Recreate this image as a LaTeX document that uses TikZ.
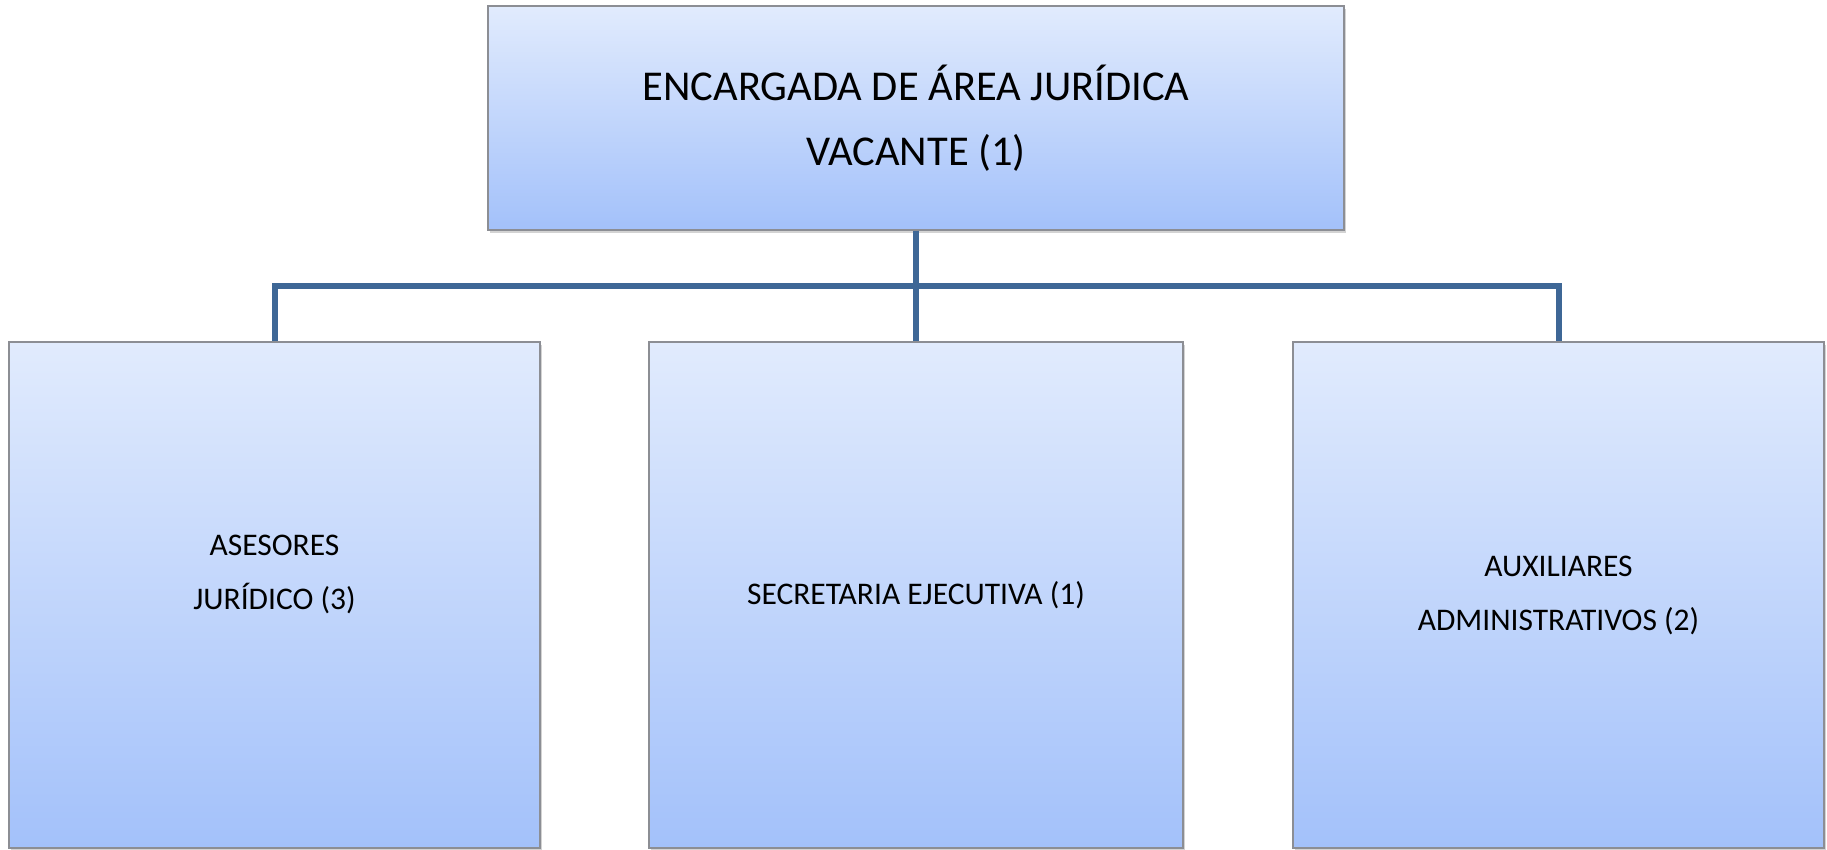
\documentclass[tikz,border=0pt]{standalone}
\usepackage{fontspec}
\setmainfont{Carlito}
\usetikzlibrary{shadows}
\definecolor{boxtop}{RGB}{225,235,253}
\definecolor{boxbottom}{RGB}{163,193,250}
\definecolor{boxline}{RGB}{140,142,148}
\definecolor{linkblue}{RGB}{62,103,150}
\tikzset{
    box_node/.style = {rectangle, align=center, inner sep=0pt, draw=boxline, line width=1.5pt,
        top color=boxtop, bottom color=boxbottom,
        drop shadow={shadow xshift=2pt, shadow yshift=-3pt, opacity=0.35}},
    head_node/.style = {box_node, minimum width=856pt, minimum height=224pt, font=\fontsize{42.5}{65}\selectfont},
    staff_node/.style = {box_node, minimum width=531pt, minimum height=506pt, font=\fontsize{31.5}{54}\selectfont},
    link/.style = {draw=linkblue, line width=6pt}
}
\begin{document}
\begin{tikzpicture}[x=1pt, y=1pt]
    \useasboundingbox (0,0) rectangle (1827,850);

    \node [head_node] (jefa) at (916,732) {ENCARGADA DE ÁREA JURÍDICA\\VACANTE (1)};

    \node [staff_node] (asesores) at (274.5,255) {ASESORES\\JURÍDICO (3)\\[-8pt]\mbox{}};
    \node [staff_node, minimum width=534pt] (secretaria) at (916,255) {SECRETARIA EJECUTIVA (1)};
    \node [staff_node] (auxiliares) at (1558.5,255) {AUXILIARES\\ADMINISTRATIVOS (2)};

    % lines between levels
    \coordinate (bus) at (916,564);
    \draw [link] (jefa.south) -- (secretaria.north);
    \draw [link] (asesores.north) |- (bus -| auxiliares.north) -- (auxiliares.north);
\end{tikzpicture}
\end{document}
